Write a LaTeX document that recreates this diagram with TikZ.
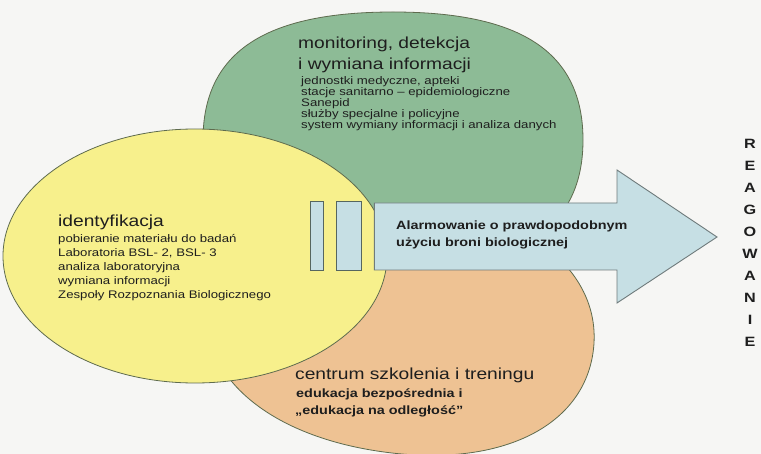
\documentclass[tikz,border=0pt]{standalone}
\usepackage{fontspec}
\setmainfont{Liberation Sans}[FakeStretch=1.2]
\newfontfamily\plainsans{Liberation Sans}

\definecolor{paper}{HTML}{F6F6F4}
\definecolor{greenfill}{HTML}{8DBB96}
\definecolor{yellowfill}{HTML}{F7F08C}
\definecolor{peachfill}{HTML}{EEC293}
\definecolor{alarmblue}{HTML}{C6DFE4}
\definecolor{blobedge}{HTML}{5E6B4E}
\definecolor{arrowedge}{HTML}{6F7B7C}
\definecolor{baredge}{HTML}{56665F}
\definecolor{ink}{HTML}{1E1E1E}

% closed rounded blob: centre x, centre y, x radius, y radius, handle factor
\newcommand\roundblob[5]{%
  (#1+#3,#2) .. controls (#1+#3,#2+#5*#4) and (#1+#5*#3,#2+#4) .. (#1,#2+#4)
  .. controls (#1-#5*#3,#2+#4) and (#1-#3,#2+#5*#4) .. (#1-#3,#2)
  .. controls (#1-#3,#2-#5*#4) and (#1-#5*#3,#2-#4) .. (#1,#2-#4)
  .. controls (#1+#5*#3,#2-#4) and (#1+#3,#2-#5*#4) .. (#1+#3,#2) -- cycle}

\tikzset{
  blobline/.style={draw=blobedge, line width=0.8pt},
  barbox/.style={fill=alarmblue, draw=baredge, line width=0.9pt},
  ttl/.style={anchor=base west, inner sep=0pt, text=ink, font=\fontsize{16}{20}\selectfont},
  sml/.style={anchor=base west, inner sep=0pt, text=ink, font=\fontsize{11}{13}\selectfont},
  bld/.style={anchor=base west, inner sep=0pt, text=ink, font=\fontsize{12}{15}\selectfont\bfseries},
  vletter/.style={inner sep=0pt, text=ink, font=\fontsize{13.5}{15}\selectfont\bfseries}
}

\begin{document}
\begin{tikzpicture}[x=1pt, y=-1pt]
  \fill[paper] (0,0) rectangle (761,454);
  \useasboundingbox (0,0) rectangle (761,454);

  % the three fields
  \path[fill=peachfill, blobline, rotate around={-8:(400,325)}] \roundblob{400}{325}{195}{128}{.6};
  \path[fill=greenfill, blobline] \roundblob{393}{140}{190}{128}{.68};
  \path[fill=yellowfill, blobline] \roundblob{195}{256}{192}{127}{.5523};

  % bars and the alarm arrow
  \path[barbox] (310.7,201.7) rectangle (323.3,270);
  \path[barbox] (336,201.7) rectangle (361.7,270);
  \path[fill=alarmblue, draw=arrowedge, line width=0.9pt]
    (374.3,203) -- (617,203) -- (617,170) -- (717,237) -- (617,303) -- (617,270) -- (374.3,270) -- cycle;

  % monitoring field
  \node[ttl] (gt1) at (298,49) {monitoring, detekcja};
  \node[ttl] (gt2) at (298,69.5) {i wymiana informacji};
  \node[sml] (g1) at (301,85) {jednostki medyczne, apteki};
  \node[sml] (g2) at (301,96) {stacje sanitarno – epidemiologiczne};
  \node[sml] (g3) at (301,107) {Sanepid};
  \node[sml] (g4) at (301,118) {służby specjalne i policyjne};
  \node[sml] (g5) at (301,129) {system wymiany informacji i analiza danych};

  % identification field
  \node[ttl] (yt) at (58,227) {identyfikacja};
  \node[sml] (y1) at (58,243) {pobieranie materiału do badań};
  \node[sml] (y2) at (58,257) {Laboratoria BSL- 2, BSL- 3};
  \node[sml] (y3) at (58,271) {analiza laboratoryjna};
  \node[sml] (y4) at (58,285) {wymiana informacji};
  \node[sml] (y5) at (58,299) {Zespoły Rozpoznania Biologicznego};

  % training field
  \node[ttl] (ot) at (295,380) {centrum szkolenia i treningu};
  \node[bld] (o1) at (296,398) {edukacja bezpośrednia i};
  \node[bld] (o2) at (295,415) {„edukacja na odległość”};

  % arrow text
  \node[bld] (a1) at (396,229.3) {Alarmowanie o prawdopodobnym};
  \node[bld] (a2) at (396,246.7) {użyciu broni biologicznej};

  % response column
  \foreach \ch [count=\i from 0] in {R,E,A,G,O,W,A,N,I,E}
    \node[vletter] (r\i) at (750,144+21.95*\i) {\ch};
\end{tikzpicture}
\end{document}
